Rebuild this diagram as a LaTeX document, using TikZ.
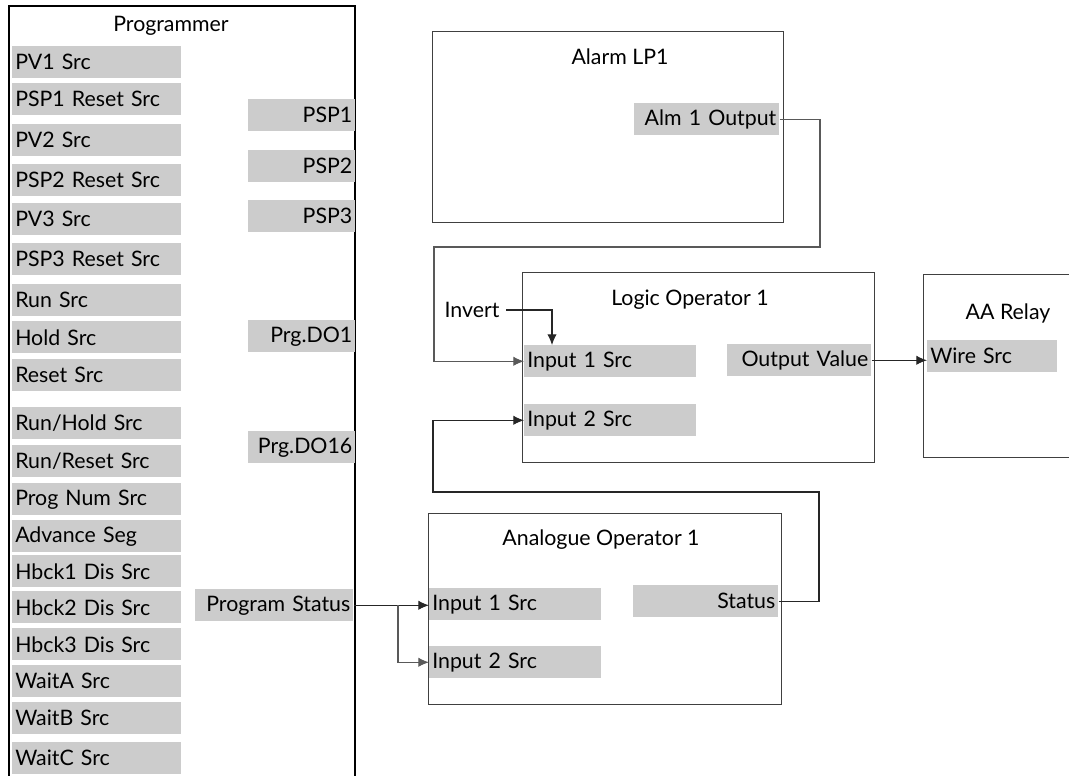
\documentclass[tikz,border=0pt]{standalone}
\usepackage{fontspec}
\setmainfont{Lato}
\usepackage{tikz}
\usetikzlibrary{arrows.meta}
\tikzset{
  port/.style={fill=gray!40, anchor=north west, minimum height=24pt,
    inner xsep=2.25pt, inner ysep=0pt, text width=#1},
  inp/.style={port=#1, align=left},
  outp/.style={port=#1, align=right},
  block/.style={draw=black!75, line width=0.8pt, anchor=north west, inner sep=0pt},
  title/.style={inner sep=1pt},
  flow/.style={-{Latex[length=8pt,width=7pt]}, line width=0.8pt, draw=black!85},
  greyflow/.style={flow, draw=black!65},
}
\begin{document}
\begin{tikzpicture}[x=0.75pt,y=-0.75pt,font=\fontsize{16}{18}\selectfont]
\useasboundingbox (0,0) rectangle (1069,775);
% programmer block, open at the foot of the page
\draw[line width=1.5pt] (9,780) -- (9,6) -- (355,6) -- (355,780);
\node[title] (prog) at (171,26) {Programmer};
\node[inp=122.25pt] (pv1)   at (12,46)  {PV1 Src};
\node[inp=122.25pt] (rst1)  at (12,83)  {PSP1 Reset Src};
\node[inp=122.25pt] (pv2)   at (12,124) {PV2 Src};
\node[inp=122.25pt] (rst2)  at (12,164) {PSP2 Reset Src};
\node[inp=122.25pt] (pv3)   at (12,203) {PV3 Src};
\node[inp=122.25pt] (rst3)  at (12,243) {PSP3 Reset Src};
\node[inp=122.25pt] (run)   at (12,284) {Run Src};
\node[inp=122.25pt] (hold)  at (12,321) {Hold Src};
\node[inp=122.25pt] (reset) at (12,359) {Reset Src};
\node[inp=122.25pt] (runhold) at (12,407) {Run/Hold Src};
\node[inp=122.25pt] (runrst)  at (12,445) {Run/Reset Src};
\node[inp=122.25pt] (prognum) at (12,483) {Prog Num Src};
\node[inp=122.25pt] (advseg)  at (12,520) {Advance Seg};
\node[inp=122.25pt] (hb1)   at (12,555) {Hbck1 Dis Src};
\node[inp=122.25pt] (hb2)   at (12,591) {Hbck2 Dis Src};
\node[inp=122.25pt] (hb3)   at (12,628) {Hbck3 Dis Src};
\node[inp=122.25pt] (waita) at (12,665) {WaitA Src};
\node[inp=122.25pt] (waitb) at (12,702) {WaitB Src};
\node[inp=122.25pt] (waitc) at (12,742) {WaitC Src};
\node[outp=75.75pt] (psp1)  at (248,99)  {PSP1};
\node[outp=75.75pt] (psp2)  at (248,150) {PSP2};
\node[outp=75.75pt] (psp3)  at (248,200) {PSP3};
\node[outp=75.75pt] (do1)   at (248,320) {Prg.DO1};
\node[outp=75.75pt] (do16)  at (248,431) {Prg.DO16};
\node[outp=114pt]   (pstat) at (195,589) {Program Status};
% alarm
\node[block, minimum width=263.25pt, minimum height=143.25pt] (alarm) at (432,31) {};
\node[title] (alarmtitle) at (620,57) {Alarm LP1};
\node[outp=104.25pt] (almout) at (634,103) {Alm 1 Output};
% logic operator
\node[block, minimum width=264pt, minimum height=142.5pt] (logic) at (522,272) {};
\node[title] (logictitle) at (690,300) {Logic Operator 1};
\node[inp=124pt]    (lin1) at (524,345) {Input 1 Src};
\node[inp=124pt]    (lin2) at (524,404) {Input 2 Src};
\node[outp=103.5pt] (lout) at (727,344) {Output Value};
\node[title] (invert) at (472,310) {Invert};
% relay, runs off the right edge
\node[block, minimum width=114pt, minimum height=137.25pt] (relay) at (923,274) {};
\node[title] (relaytitle) at (1008,313) {AA Relay};
\node[inp=93pt] (wire) at (927,340) {Wire Src};
% analogue operator
\node[block, minimum width=264.75pt, minimum height=143.25pt] (anop) at (428,513) {};
\node[title] (anoptitle) at (601,540) {Analogue Operator 1};
\node[inp=124.5pt]    (ain1) at (429,588) {Input 1 Src};
\node[inp=124.5pt]    (ain2) at (429,646) {Input 2 Src};
\node[outp=104.25pt]  (astat) at (633,585) {Status};
% wiring
\coordinate (aR) at (820,247);
\coordinate (aL) at (434,247);
\coordinate (sR) at (819,492);
\coordinate (sL) at (433,492);
\coordinate (invdrop) at (552,310);
\coordinate (split) at (398,0);
\draw[greyflow] (almout.east) -| (aR) -- (aL) |- (lin1.west);
\draw[flow] (astat.east) -| (sR) -- (sL) |- (lin2.west);
\draw[flow] ([xshift=4pt]invert.east) -- (invdrop) -- (invdrop |- lin1.north);
\draw[flow] (lout.east) -- (lout.east -| wire.west);
\draw[flow] (pstat.east) -- (pstat.east -| ain1.west);
\draw[greyflow] (pstat.east -| split) |- (ain2.west);
\end{tikzpicture}
\end{document}
